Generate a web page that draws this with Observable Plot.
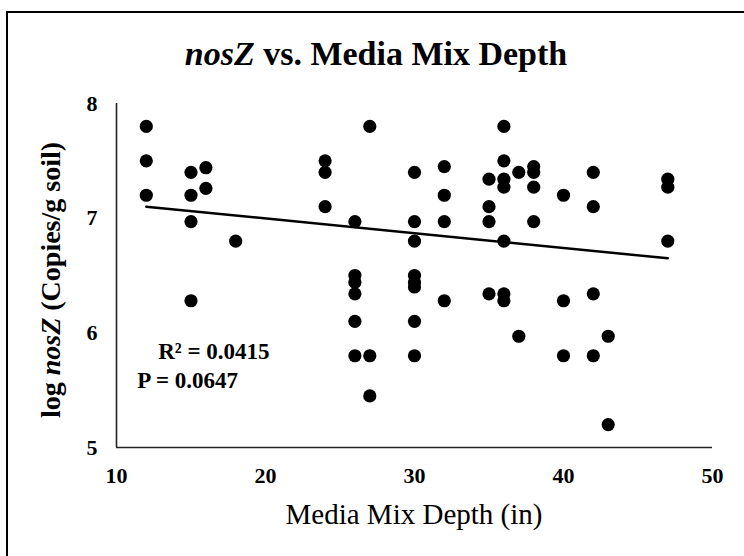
<!DOCTYPE html>
<html>
<head>
<meta charset="utf-8">
<script src="https://cdn.jsdelivr.net/npm/d3@7"></script>
<script src="https://cdn.jsdelivr.net/npm/@observablehq/plot@0.6"></script>
<style>
  html, body { margin: 0; padding: 0; background: #fff; overflow: hidden; }
  body { width: 744px; height: 556px; position: relative; font-family: "Liberation Serif", serif; }
  #frame { position: absolute; left: 6px; top: 11px; width: 800px; height: 600px; border: 2px solid #000; box-sizing: border-box; }
  #chart { position: absolute; left: 0; top: 0; }
</style>
</head>
<body>
<div id="frame"></div>
<div id="chart"></div>
<script>
// Media mix depth (in) for each sample
const depth = [
  12, 12, 12,
  15, 15, 15, 15,
  16, 16,
  18,
  24, 24, 24,
  26, 26, 26, 26, 26, 26,
  27, 27, 27,
  30, 30, 30, 30, 30, 30, 30, 30,
  32, 32, 32, 32,
  35, 35, 35, 35,
  36, 36, 36, 36, 36, 36, 36,
  37, 37,
  38, 38, 38, 38,
  40, 40, 40,
  42, 42, 42, 42,
  43, 43,
  47, 47, 47
];
// log nosZ (copies/g soil)
const lognosZ = [
  7.80, 7.50, 7.20,
  7.40, 7.20, 6.97, 6.28,
  7.44, 7.26,
  6.80,
  7.50, 7.40, 7.10,
  6.97, 6.50, 6.44, 6.34, 6.10, 5.80,
  7.80, 5.80, 5.45,
  7.40, 6.97, 6.80, 6.50, 6.44, 6.40, 6.10, 5.80,
  7.45, 7.20, 6.97, 6.28,
  7.34, 7.10, 6.97, 6.34,
  7.80, 7.50, 7.34, 7.27, 6.80, 6.34, 6.28,
  7.40, 5.97,
  7.45, 7.40, 7.27, 6.97,
  7.20, 6.28, 5.80,
  7.40, 7.10, 6.34, 5.80,
  5.97, 5.20,
  7.34, 7.27, 6.80
];
// Linear trend line (fitted values)
const trendDepth = [12, 47];
const trendValue = [7.10, 6.65];
const xTicks = [10, 20, 30, 40, 50];
const yTicks = [5, 6, 7, 8];
const statLabels = ["R² = 0.0415", "P = 0.0647"];
const statX = [12.8, 11.4];
const statY = [5.77, 5.515];

const data = depth.map((d, i) => ({depth: d, value: lognosZ[i]}));
const trend = trendDepth.map((d, i) => ({depth: d, value: trendValue[i]}));
const stats = statLabels.map((t, i) => ({text: t, x: statX[i], y: statY[i]}));

const plot = Plot.plot({
  width: 744,
  height: 556,
  marginLeft: 116,
  marginRight: 32,
  marginTop: 103,
  marginBottom: 109,
  style: {fontFamily: "'Liberation Serif', serif", background: "transparent", color: "#000"},
  x: {domain: [10, 50], ticks: xTicks, label: null},
  y: {domain: [5, 8], ticks: yTicks, label: null},
  marks: [
    Plot.axisX({ticks: xTicks, tickSize: 0, tickPadding: 20, fontWeight: "bold", label: null, tickFormat: d => String(d)}),
    Plot.axisY({ticks: yTicks, tickSize: 0, tickPadding: 19, fontWeight: "bold", label: null, tickFormat: d => String(d)}),
    Plot.ruleX([10], {stroke: "#222", strokeWidth: 1.6}),
    Plot.ruleY([5], {stroke: "#222", strokeWidth: 1.6}),
    Plot.dot(data, {x: "depth", y: "value", r: 6.6, fill: "#000", stroke: "none"}),
    Plot.line(trend, {x: "depth", y: "value", stroke: "#000", strokeWidth: 2.5}),
    Plot.text(stats, {x: "x", y: "y", text: "text", textAnchor: "start", lineAnchor: "bottom", fontSize: 23, fontWeight: "bold", fill: "#000"})
  ]
});

const svg = d3.select(plot);
// Enlarge tick labels
svg.selectAll("g[aria-label='x-axis tick label'], g[aria-label='y-axis tick label']")
  .style("font-size", "22px").style("font-weight", "bold");
svg.selectAll("g[aria-label='x-axis tick label'] text, g[aria-label='y-axis tick label'] text")
  .style("font-size", "22px");

// Chart title with italic gene name
const title = svg.append("text")
  .attr("x", 376).attr("y", 65)
  .attr("text-anchor", "middle")
  .attr("font-size", 34)
  .attr("font-weight", "bold")
  .attr("fill", "#000");
title.append("tspan").attr("font-style", "italic").text("nosZ");
title.append("tspan").text(" vs. Media Mix Depth");
// Axis titles
svg.append("text")
  .attr("x", 414).attr("y", 524)
  .attr("text-anchor", "middle")
  .attr("font-size", 29)
  .attr("fill", "#000")
  .text("Media Mix Depth (in)");
const yt = svg.append("text")
  .attr("transform", "translate(60,280) rotate(-90)")
  .attr("text-anchor", "middle")
  .attr("font-size", 28)
  .attr("font-weight", "bold")
  .attr("fill", "#000");
yt.append("tspan").text("log ");
yt.append("tspan").attr("font-style", "italic").text("nosZ");
yt.append("tspan").text(" (Copies/g soil)");

document.getElementById("chart").appendChild(plot);
</script>
</body>
</html>
